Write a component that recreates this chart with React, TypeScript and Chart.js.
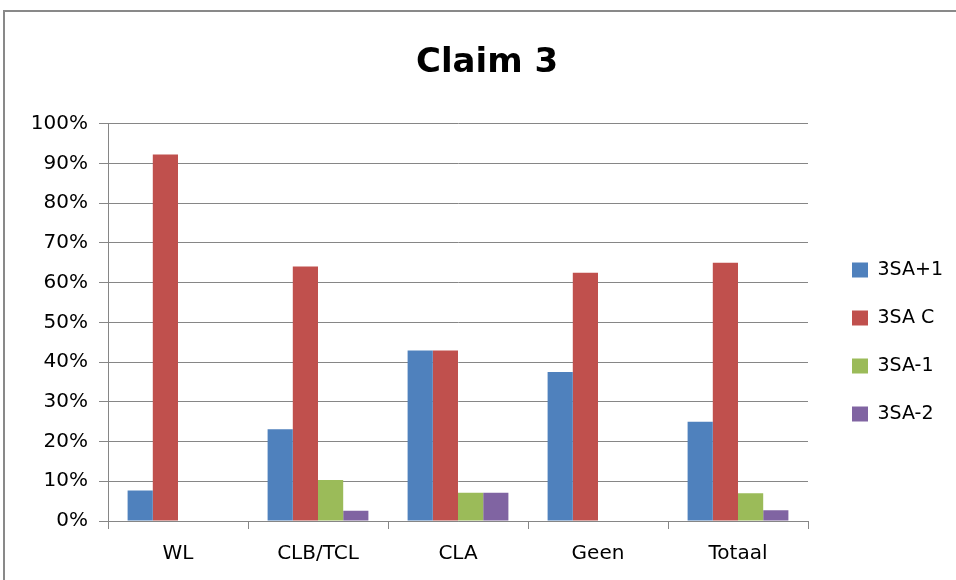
import { useEffect, useRef } from 'react';
import { Chart, registerables } from 'chart.js';

Chart.register(...registerables);

const categories = ['WL', 'CLB/TCL', 'CLA', 'Geen', 'Totaal'];
const seriesNames = ['3SA+1', '3SA C', '3SA-1', '3SA-2'];
const saPlus1 = [7.7, 23.1, 42.9, 37.5, 25.0];
const saC = [92.3, 64.1, 42.9, 62.5, 65.0];
const saMin1 = [0, 10.3, 7.1, 0, 7.0];
const saMin2 = [0, 2.6, 7.1, 0, 2.7];
const seriesColors = ['#4F81BD', '#C0504D', '#9BBB59', '#8064A2'];
const yMin = 0;
const yMax = 100;
const yStep = 10;

const CANVAS_W = 974;
const CANVAS_H = 580;
const GRID = '#868686';
const FONT = 'DejaVu Sans';

const legendPlacement = {
  id: 'legendPlacement',
  beforeInit(chart: any) {
    const legend = chart.legend;
    if (!legend) return;
    const orig = legend.fit;
    legend.fit = function () {
      orig.call(this);
      this.width = 166;
    };
  },
  afterLayout(chart: any) {
    const l = chart.legend;
    if (!l) return;
    l.left += 15;
    l.right += 15;
    l.top += 52;
    l.bottom += 52;
  },
};

export default function App() {
  const ref = useRef<HTMLCanvasElement | null>(null);

  useEffect(() => {
    document.body.style.margin = '0';
    const canvas = ref.current;
    if (!canvas) return;
    const series = [saPlus1, saC, saMin1, saMin2];
    const chart = new Chart(canvas, {
      type: 'bar',
      data: {
        labels: categories,
        datasets: series.map((d, i) => ({
          label: seriesNames[i],
          data: d,
          backgroundColor: seriesColors[i],
          borderWidth: 0,
          categoryPercentage: 0.72,
          barPercentage: 1,
        })),
      },
      plugins: [legendPlacement],
      options: {
        animation: false,
        responsive: false,
        devicePixelRatio: 1,
        layout: { padding: 0 },
        plugins: {
          title: {
            display: true,
            text: 'Claim 3',
            color: '#000',
            font: { family: FONT, size: 34, weight: 'bold', lineHeight: 1.2 },
            padding: { top: 43, bottom: 40 },
          },
          legend: {
            position: 'right',
            align: 'center',
            labels: {
              boxWidth: 16,
              boxHeight: 15,
              padding: 29,
              color: '#000',
              font: { family: FONT, size: 19 },
            },
          },
          tooltip: { enabled: false },
        },
        scales: {
          x: {
            grid: {
              display: true,
              drawOnChartArea: false,
              drawTicks: true,
              tickLength: 8,
              offset: true,
              color: GRID,
            },
            border: { color: GRID },
            ticks: { color: '#000', font: { family: FONT, size: 20 }, padding: 13 },
            afterFit: (s: any) => {
              s.height = 59;
            },
          },
          y: {
            min: yMin,
            max: yMax,
            ticks: {
              stepSize: yStep,
              color: '#000',
              font: { family: FONT, size: 20 },
              padding: 11,
              callback: (v: any) => v + '%',
            },
            grid: { color: GRID, tickLength: 9 },
            border: { color: GRID },
            afterFit: (s: any) => {
              s.width = 108;
            },
          },
        },
      } as any,
    });
    return () => chart.destroy();
  }, []);

  return (
    <div style={{ position: 'relative', width: 956, height: 580, overflow: 'hidden', background: '#fff' }}>
      <div
        style={{
          position: 'absolute',
          left: 3,
          top: 10,
          width: 1000,
          height: 620,
          border: '2px solid #898989',
          boxSizing: 'border-box',
        }}
      />
      <canvas
        ref={ref}
        width={CANVAS_W}
        height={CANVAS_H}
        style={{ position: 'absolute', left: 0, top: 0, width: CANVAS_W, height: CANVAS_H }}
      />
    </div>
  );
}
